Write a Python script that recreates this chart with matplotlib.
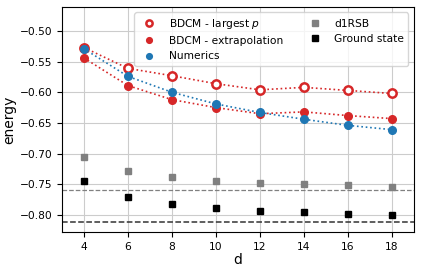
import numpy as np
import matplotlib
matplotlib.use('Agg')
import matplotlib.pyplot as plt

# values
d = [4, 6, 8, 10, 12, 14, 16, 18]
bdcm_largest = [-0.527, -0.561, -0.573, -0.586, -0.596, -0.592, -0.597, -0.602]
bdcm_extrap = [-0.544, -0.589, -0.612, -0.625, -0.635, -0.632, -0.638, -0.643]
numerics = [-0.529, -0.574, -0.600, -0.619, -0.633, -0.644, -0.654, -0.661]
d1rsb = [-0.705, -0.729, -0.739, -0.745, -0.748, -0.750, -0.752, -0.754]
ground = [-0.745, -0.771, -0.782, -0.789, -0.793, -0.796, -0.798, -0.800]
h_d1rsb_inf = -0.760
h_ground_inf = -0.811

plt.rcParams['font.size'] = 7.7

fig, ax = plt.subplots(figsize=(4.21, 2.72), dpi=100)

red = '#d62728'
blue = '#1f77b4'

ax.axhline(h_d1rsb_inf, color='grey', ls='--', lw=0.9)
ax.axhline(h_ground_inf, color='#333333', ls='--', lw=1.1)

ax.plot(d, bdcm_largest, ':', color=red, lw=1.2)
ax.plot(d, bdcm_extrap, ':', color=red, lw=1.2)
ax.plot(d, numerics, ':', color=blue, lw=1.2)

ax.plot(d, bdcm_largest, 'o', mfc='white', mec=red, mew=1.8, ms=6,
        label='BDCM - largest $p$', ls='none')
ax.plot(d, bdcm_extrap, 'o', color=red, ms=5.5, label='BDCM - extrapolation', ls='none')
ax.plot(d, numerics, 'o', color=blue, ms=5.5, label='Numerics', ls='none')
ax.plot(d, d1rsb, 's', color='grey', ms=5, label='d1RSB', ls='none')
ax.plot(d, ground, 's', color='black', ms=5, label='Ground state', ls='none')

ax.set_xlim(3, 19)
ax.set_ylim(-0.828, -0.461)
ax.set_xticks(d)
ax.set_yticks([-0.50, -0.55, -0.60, -0.65, -0.70, -0.75, -0.80])
ax.grid(True, color='#cccccc', lw=0.8)
ax.set_axisbelow(True)
ax.set_xlabel('d', fontsize=10, labelpad=1)
ax.set_ylabel('energy', fontsize=10, labelpad=2)
ax.legend(ncol=2, loc='upper right', fontsize=7.7, markerscale=0.75)

fig.subplots_adjust(left=0.147, right=0.983, top=0.974, bottom=0.147)
fig.savefig('out.png', dpi=100)
